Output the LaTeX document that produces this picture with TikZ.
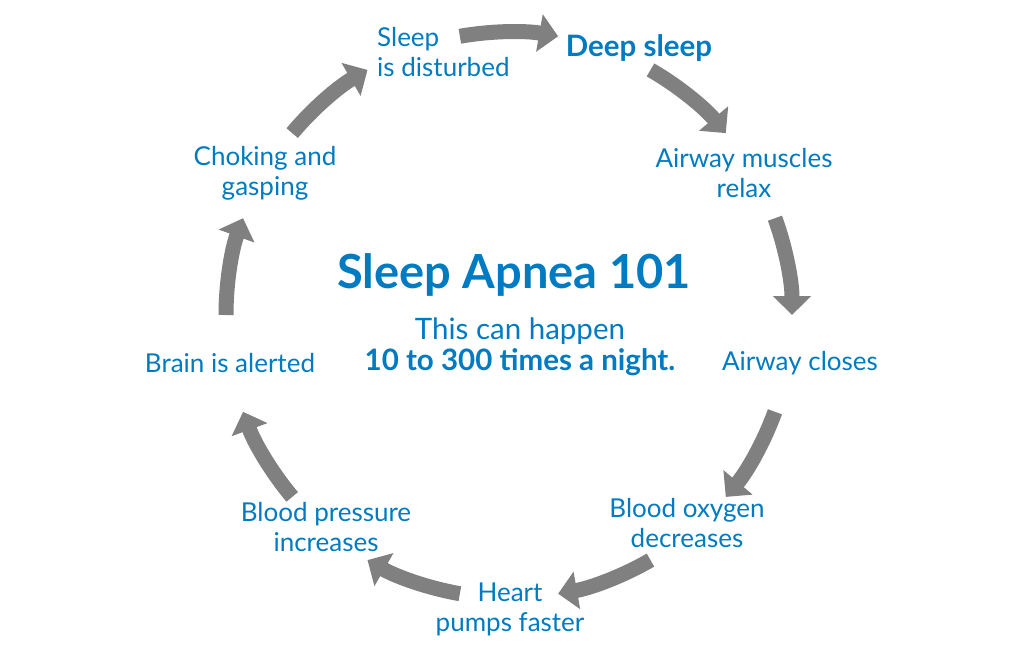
\documentclass[tikz,border=0pt]{standalone}
\usepackage{fontspec}
\setmainfont{Lato}
\usepackage{tikz}
\usetikzlibrary{arrows.meta,calc}
\definecolor{apblue}{RGB}{0,123,193}
\definecolor{apgray}{RGB}{128,128,128}
\tikzset{
  lbl/.style={text=apblue, font=\fontsize{26}{30}\selectfont, align=center, inner sep=0pt},
  bld/.style={lbl, font=\fontsize{29.5}{30}\selectfont\bfseries},
  flow/.style={draw=apgray, line width=15pt, -{Triangle[length=19pt,width=37pt]}}
}

\begin{document}
\begin{tikzpicture}[x=1pt, y=1pt]
  \useasboundingbox (0,-645) rectangle (1011,0);
  % --- Setup ---
  \def\R{283}             % radius of the cycle
  \coordinate (c) at (509,-315);

  % --- Cycle arrows, one every 40 degrees ---
  \foreach \a in {100,60,...,-220}{
    \coordinate (s\a) at ($(c)+(\a:\R)$);
    \draw[flow] (s\a) arc[start angle=\a, end angle=\a-20, radius=\R];
  }

  % --- Steps of the cycle ---
  \node[lbl, anchor=west, align=left] (dist) at (377,-52) {Sleep\\is disturbed};
  \node[bld] (deep) at (639,-48) {Deep sleep};
  \node[lbl] (relax) at (744,-173) {Airway muscles\\relax};
  \node[lbl] (close) at (800,-363) {Airway closes};
  \node[lbl] (oxy) at (687,-523) {Blood oxygen\\decreases};
  \node[lbl] (heart) at (510,-609) {Heart\\pumps faster};
  \node[lbl] (press) at (326,-527) {Blood pressure\\increases};
  \node[lbl] (brain) at (230,-363) {Brain is alerted};
  \node[lbl] (choke) at (265,-173) {Choking and\\gasping};

  % --- Centre text ---
  \node[bld, font=\fontsize{47}{50}\selectfont\bfseries] (title) at (514,-275) {Sleep Apnea 101};
  \node[lbl, font=\fontsize{29.5}{31}\selectfont] (often) at (520,-347)
    {This can happen\\\textbf{10 to 300 times a night.}};
\end{tikzpicture}
\end{document}
